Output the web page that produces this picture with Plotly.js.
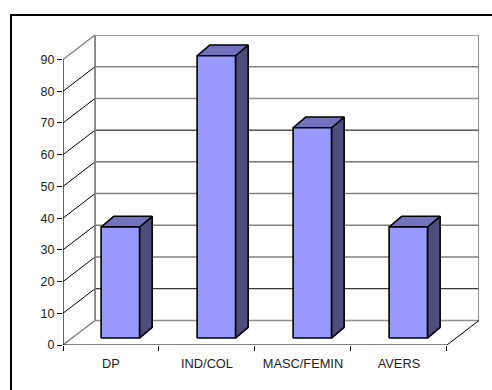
<!DOCTYPE html>
<html>
<head>
<meta charset="utf-8">
<script src="https://cdn.plot.ly/plotly-3.0.1.min.js"></script>
<style>
  html, body { margin: 0; padding: 0; background: #fff; overflow: hidden; }
  #frame { position: absolute; left: 10px; top: 14px; width: 490px; height: 390px;
           border: 2px solid #000; box-sizing: border-box; }
  #chart { position: absolute; left: 0; top: 0; width: 492px; height: 390px; }
</style>
</head>
<body>
<div id="frame"></div>
<div id="chart"></div>
<script>
// Scores per dimension
const categories = ['DP', 'IND/COL', 'MASC/FEMIN', 'AVERS'];
const scores = [35, 89, 66.3, 35];
const gridValues = [0, 10, 20, 30, 40, 50, 60, 70, 80, 90];
const backGridColors = ['#909090', '#000000', '#808080', '#808080', '#808080',
                        '#333333', '#000000', '#909090', '#808080', '#808080'];

// Oblique projection of the 3D box, in axis units
const wallDx = 0.3337, wallDy = 7.74;
const barDx = 0.132, barDy = 3.37;
const floorDy = 2.2;
const barLeft = 0.397, barWidth = 0.4;

const faceColor = '#9999FF', topColor = '#7373BD', sideColor = '#4D4D80';
const nCat = categories.length;
const traces = [];

function path(xs, ys, color, width) {
  traces.push({
    type: 'scatter', mode: 'lines', x: xs, y: ys,
    line: { color: color, width: width, shape: 'linear' },
    hoverinfo: 'skip', cliponaxis: false, showlegend: false
  });
}
function poly(xs, ys, fill) {
  traces.push({
    type: 'scatter', mode: 'lines', x: xs.concat(xs[0]), y: ys.concat(ys[0]),
    fill: 'toself', fillcolor: fill,
    line: { color: '#000', width: 1.6 },
    hoverinfo: 'skip', cliponaxis: false, showlegend: false
  });
}

// Back wall and left wall
gridValues.forEach((v, i) => {
  const grey = backGridColors[i] !== '#000000' && backGridColors[i] !== '#333333';
  path([wallDx, nCat + wallDx], [v + wallDy, v + wallDy], backGridColors[i], grey ? 1.5 : 1);
  const edge = v === 0 || v === 90;
  path([0, wallDx], [v, v + wallDy], edge ? '#808080' : '#000', edge ? 1.4 : 1);
});
path([wallDx, wallDx], [wallDy, 90 + wallDy], '#808080', 1.8);
path([nCat + wallDx, nCat + wallDx], [wallDy, 90 + wallDy], '#808080', 1.8);

// Floor edges and front axes
path([nCat, nCat + wallDx], [0, wallDy], '#000', 1);
path([0, 0], [0, 90], '#000', 1.2);
path([0, nCat], [0, 0], '#000', 1.2);

// Bars: side, top, then front face
scores.forEach((v, i) => {
  const x0 = i + barLeft, x1 = x0 + barWidth;
  const y0 = floorDy, y1 = floorDy + v;
  poly([x1, x1 + barDx, x1 + barDx, x1], [y0, y0 + barDy, y1 + barDy, y1], sideColor);
  poly([x0, x0 + barDx, x1 + barDx, x1], [y1, y1 + barDy, y1 + barDy, y1], topColor);
  poly([x0, x1, x1, x0], [y0, y0, y1, y1], faceColor);
});

const layout = {
  width: 492, height: 390,
  margin: { l: 63, r: 13, t: 34.7, b: 44.7, pad: 0 },
  paper_bgcolor: 'rgba(0,0,0,0)', plot_bgcolor: 'rgba(0,0,0,0)',
  showlegend: false,
  font: { family: 'Liberation Sans, Arial, sans-serif', size: 12, color: '#222' },
  xaxis: {
    range: [0, nCat + wallDx], showgrid: false, zeroline: false, showline: false,
    tickmode: 'array', tickvals: categories.map((c, i) => i + 0.5), ticktext: categories,
    ticks: 'outside', ticklen: 0, tickfont: { size: 12.8, color: '#222' },
    ticklabelstandoff: 7,
    minor: { tickmode: 'array', tickvals: [0, 1, 2, 3, 4], ticks: 'outside',
             ticklen: 5, tickwidth: 1, tickcolor: '#000', showgrid: false }
  },
  yaxis: {
    range: [0, 90 + wallDy], showgrid: false, zeroline: false, showline: false,
    tickmode: 'array', tickvals: gridValues, ticktext: gridValues.map(String),
    ticks: 'outside', ticklen: 5, tickwidth: 1, tickcolor: '#000',
    tickfont: { size: 12.5, color: '#222' }
  }
};

Plotly.newPlot('chart', traces, layout, { displayModeBar: false, staticPlot: true });
</script>
</body>
</html>
